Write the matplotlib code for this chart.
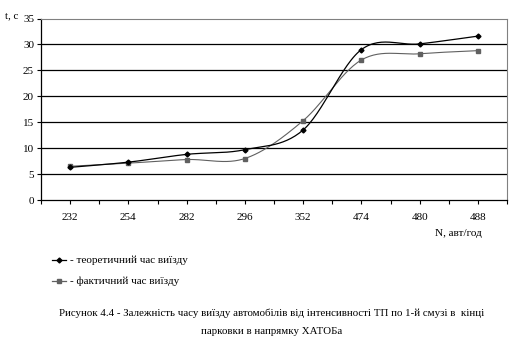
import matplotlib
matplotlib.use('Agg')
import matplotlib.pyplot as plt
import numpy as np

# N, авт/год categories and exit times, s
categories = ['232', '254', '282', '296', '352', '474', '480', '488']
t_theory = [6.3, 7.3, 8.8, 9.7, 13.5, 29.0, 30.1, 31.6]
t_actual = [6.5, 7.1, 7.8, 8.0, 15.3, 27.0, 28.2, 28.8]
y_ticks = [0, 5, 10, 15, 20, 25, 30, 35]

plt.rcParams['font.family'] = ['Liberation Serif', 'DejaVu Serif']


def smooth(xs, ys, n=30):
    # Bezier smoothing through points, control points at 1/6 of neighbour span
    xs = np.asarray(xs, float)
    ys = np.asarray(ys, float)
    pts = np.column_stack([xs, ys])
    out = []
    for i in range(len(pts) - 1):
        p0 = pts[max(i - 1, 0)]
        p1 = pts[i]
        p2 = pts[i + 1]
        p3 = pts[min(i + 2, len(pts) - 1)]
        c1 = p1 + (p2 - p0) / 6
        c2 = p2 - (p3 - p1) / 6
        t = np.linspace(0, 1, n)[:, None]
        seg = ((1 - t) ** 3) * p1 + 3 * ((1 - t) ** 2) * t * c1 + 3 * (1 - t) * t ** 2 * c2 + t ** 3 * p2
        out.append(seg if i == 0 else seg[1:])
    seg = np.vstack(out)
    return seg[:, 0], seg[:, 1]


fig = plt.figure(figsize=(5.12, 3.4), dpi=100)
ax = fig.add_axes([41 / 512, 140 / 340, 466 / 512, 181.5 / 340])

x = np.arange(len(categories))
for yv in y_ticks[1:-1]:
    ax.axhline(yv, color='black', lw=0.9, zorder=1)

sx, sy = smooth(x, t_actual)
ax.plot(sx, sy, color='#606060', lw=0.8, zorder=2)
ax.plot(x, t_actual, ls='none', marker='s', ms=3.5, color='#606060', zorder=3)

sx, sy = smooth(x, t_theory)
ax.plot(sx, sy, color='black', lw=0.9, zorder=4)
ax.plot(x, t_theory, ls='none', marker='D', ms=2.5, color='black', zorder=5)

ax.set_xlim(-0.5, len(categories) - 0.5)
ax.set_ylim(0, 35)
ax.set_yticks(y_ticks)
ax.set_yticklabels([str(v) for v in y_ticks], fontsize=8)
ax.set_xticks(np.arange(-0.5, len(categories), 0.5))
ax.set_xticklabels([''] * len(ax.get_xticks()))
for i, c in enumerate(categories):
    ax.text(i, -2.5, c, ha='center', va='top', fontsize=8)
ax.tick_params(axis='both', direction='out', length=3, width=0.8, color='black', pad=2)

ax.spines['top'].set_color('#808080')
ax.spines['right'].set_color('#808080')
ax.spines['left'].set_linewidth(0.9)
ax.spines['bottom'].set_linewidth(0.9)

fig.text(5 / 512, 1 - 16 / 340, 't, c', fontsize=8, va='center', ha='left')
fig.text(482 / 512, 1 - 233 / 340, 'N, авт/год', fontsize=8, va='center', ha='right')

# legend drawn by hand below the axes
for row, (col, mk, ms, lbl) in enumerate([
        ('black', 'D', 2.5, '- теоретичний час виїзду'),
        ('#606060', 's', 3.5, '- фактичний час виїзду')]):
    yy = 1 - (260 + 21 * row) / 340
    fig.lines.append(plt.Line2D([52 / 512, 66 / 512], [yy, yy], transform=fig.transFigure,
                                color=col, lw=0.9))
    fig.lines.append(plt.Line2D([59 / 512], [yy], transform=fig.transFigure,
                                color=col, marker=mk, ms=ms, ls='none'))
    fig.text(70 / 512, yy, lbl, fontsize=8, va='center', ha='left')

fig.text(272 / 512, 1 - 313 / 340,
         'Рисунок 4.4 - Залежність часу виїзду автомобілів від інтенсивності ТП по 1-й смузі в  кінці',
         fontsize=7.8, ha='center', va='center')
fig.text(272 / 512, 1 - 331 / 340, 'парковки в напрямку ХАТОБа',
         fontsize=7.8, ha='center', va='center')

fig.savefig('out.png', dpi=100)
